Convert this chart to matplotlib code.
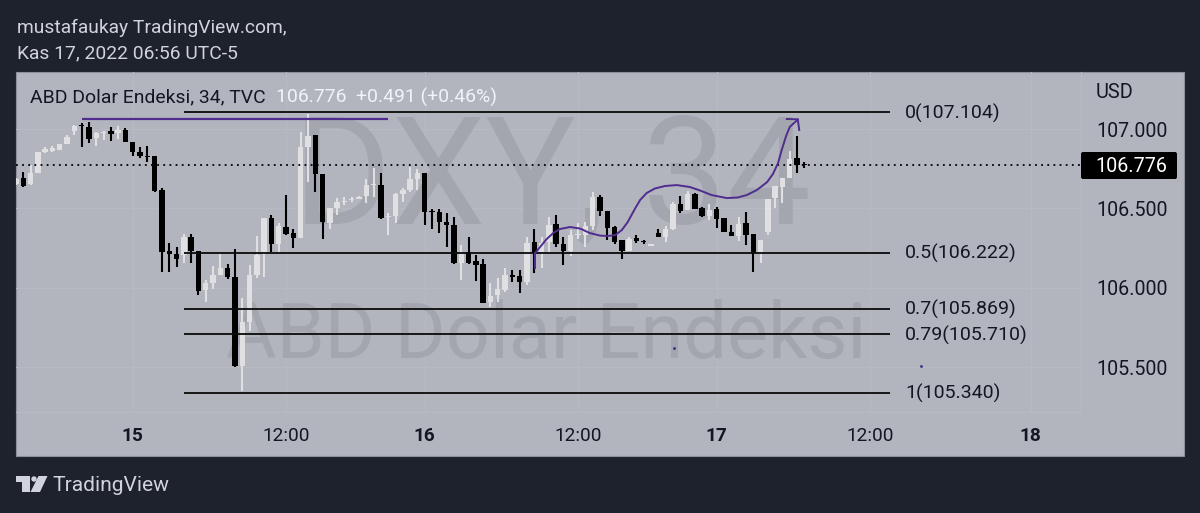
import matplotlib
matplotlib.use('Agg')
from matplotlib import pyplot as plt
from matplotlib.patches import FancyBboxPatch, Polygon, Circle, Rectangle

W, H = 1200, 513
BG = '#1e222d'
PANEL = '#b2b5be'
GRID = '#b7bac2'
UP = '#e0e0e3'
DOWN = '#000000'
WATER = '#a3a6af'
PURPLE = '#4f2c8d'

opens = [106.653, 106.691, 106.653, 106.722, 106.854, 106.861, 106.867, 106.905, 106.987, 107.028,
         107.012, 106.943, 106.977, 106.987, 106.974, 106.993, 106.917, 106.854, 106.829, 106.829,
         106.615, 106.231, 106.212, 106.206, 106.319, 106.231, 105.985, 106.029, 106.080, 106.124,
         106.067, 105.506, 105.783, 106.080, 106.224, 106.439, 106.275, 106.382, 106.344, 106.313,
         106.886, 106.962, 106.716, 106.407, 106.502, 106.539, 106.552, 106.558, 106.577, 106.646,
         106.646, 106.445, 106.451, 106.590, 106.615, 106.684, 106.722, 106.483, 106.476, 106.413,
         106.394, 106.155, 106.224, 106.168, 106.149, 105.909, 105.954, 105.985, 106.080, 106.073,
         106.035, 106.287, 106.224, 106.287, 106.401, 106.275, 106.231, 106.332, 106.332, 106.388,
         106.571, 106.483, 106.382, 106.300, 106.231, 106.313, 106.294, 106.262, 106.344, 106.319,
         106.369, 106.527, 106.489, 106.590, 106.502, 106.451, 106.495, 106.439, 106.350, 106.325,
         106.407, 106.338, 106.218, 106.350, 106.565, 106.634, 106.691, 106.817, 106.782]
highs = [106.690, 106.728, 106.772, 106.854, 106.886, 106.892, 106.905, 106.962, 107.025, 107.037,
         107.043, 106.980, 106.987, 107.012, 107.018, 107.006, 106.917, 106.886, 106.892, 106.829,
         106.628, 106.281, 106.256, 106.338, 106.338, 106.231, 106.048, 106.136, 106.212, 106.149,
         106.243, 105.935, 106.142, 106.325, 106.439, 106.458, 106.407, 106.584, 106.369, 106.980,
         107.094, 106.962, 106.716, 106.502, 106.565, 106.571, 106.571, 106.577, 106.684, 106.754,
         106.722, 106.470, 106.596, 106.628, 106.760, 106.747, 106.722, 106.495, 106.495, 106.470,
         106.445, 106.268, 106.319, 106.206, 106.180, 106.029, 106.061, 106.124, 106.111, 106.111,
         106.319, 106.369, 106.319, 106.445, 106.458, 106.319, 106.363, 106.407, 106.413, 106.602,
         106.584, 106.483, 106.388, 106.300, 106.319, 106.332, 106.300, 106.275, 106.369, 106.388,
         106.539, 106.577, 106.609, 106.596, 106.508, 106.527, 106.508, 106.439, 106.394, 106.445,
         106.476, 106.338, 106.300, 106.558, 106.640, 106.691, 106.861, 106.955, 106.791]
lows = [106.650, 106.634, 106.646, 106.722, 106.848, 106.854, 106.867, 106.905, 106.962, 106.886,
        106.911, 106.892, 106.930, 106.924, 106.936, 106.917, 106.829, 106.817, 106.791, 106.602,
        106.098, 106.098, 106.130, 106.155, 106.155, 105.954, 105.909, 105.991, 106.080, 106.054,
        105.500, 105.349, 105.727, 106.061, 106.067, 106.224, 106.218, 106.332, 106.250, 106.313,
        106.665, 106.602, 106.306, 106.369, 106.457, 106.520, 106.539, 106.558, 106.533, 106.571,
        106.432, 106.332, 106.407, 106.539, 106.602, 106.615, 106.394, 106.369, 106.344, 106.256,
        106.149, 106.048, 106.149, 106.042, 105.903, 105.878, 105.909, 105.972, 106.035, 105.966,
        106.016, 106.092, 106.124, 106.224, 106.256, 106.142, 106.199, 106.306, 106.256, 106.363,
        106.451, 106.300, 106.275, 106.180, 106.231, 106.281, 106.275, 106.262, 106.319, 106.287,
        106.363, 106.470, 106.489, 106.495, 106.445, 106.426, 106.376, 106.350, 106.325, 106.294,
        106.268, 106.098, 106.155, 106.332, 106.502, 106.533, 106.691, 106.722, 106.754]
closes = [106.684, 106.640, 106.722, 106.854, 106.873, 106.880, 106.905, 106.949, 107.018, 107.021,
          106.936, 106.974, 106.984, 106.968, 106.993, 106.917, 106.854, 106.829, 106.823, 106.609,
          106.224, 106.212, 106.180, 106.319, 106.231, 105.979, 106.029, 106.080, 106.124, 106.067,
          105.506, 105.783, 106.080, 106.206, 106.439, 106.275, 106.388, 106.338, 106.313, 106.886,
          106.955, 106.716, 106.413, 106.502, 106.539, 106.546, 106.558, 106.571, 106.646, 106.653,
          106.439, 106.451, 106.590, 106.615, 106.684, 106.722, 106.476, 106.476, 106.413, 106.394,
          106.155, 106.212, 106.155, 106.142, 105.903, 105.947, 105.991, 106.080, 106.067, 106.035,
          106.281, 106.218, 106.281, 106.394, 106.275, 106.231, 106.332, 106.338, 106.388, 106.571,
          106.483, 106.376, 106.287, 106.231, 106.306, 106.294, 106.287, 106.275, 106.319, 106.369,
          106.527, 106.483, 106.590, 106.495, 106.451, 106.489, 106.432, 106.350, 106.325, 106.401,
          106.332, 106.218, 106.300, 106.558, 106.640, 106.691, 106.810, 106.772, 106.776]

fib_ratios = ['0', '0.5', '0.7', '0.79', '1']
fib_prices = [107.104, 106.222, 105.869, 105.710, 105.340]
last_price = 106.776

# hand drawn purple path, bar index / price
top_line_x = [9, 51]
top_line_y = [107.06, 107.06]
curve_x = [71.1, 71.1, 71.8, 72.7, 73.6, 74.5, 75.9, 77.3, 78.6, 80.0, 81.0, 82.1, 83.0, 83.8, 84.7, 85.5, 86.4,
           87.5, 88.9, 90.5, 92.3, 93.7, 95.3, 97.4, 98.9, 100.1, 101.5, 102.9, 103.7, 104.4, 104.9, 105.5, 106.0, 107.1]
curve_y = [106.125, 106.219, 106.257, 106.307, 106.345, 106.370, 106.383, 106.373, 106.345, 106.329, 106.326,
           106.332, 106.364, 106.414, 106.490, 106.553, 106.597, 106.625, 106.641, 106.647, 106.635, 106.613,
           106.584, 106.565, 106.569, 106.584, 106.616, 106.666, 106.717, 106.786, 106.868, 106.956, 107.013, 107.060]
arrow_x = [105.6, 107.1, 107.3]
arrow_y = [107.063, 107.061, 106.994]

stray_x = [90.1, 124.0]
stray_y = [105.621, 105.508]

y_ticks = [107.0, 106.5, 106.0, 105.5]
y_labels = ['107.000', '106.500', '106.000', '105.500']
x_ticks = [16, 37, 56, 77, 96, 117, 139]
x_labels = ['15', '12:00', '16', '12:00', '17', '12:00', '18']
x_bold = ['15', '16', '17', '18']


def px(size):
    return size * 0.72


def fx(x):
    return x / W


def fy(y):
    return 1 - y / H


plt.rcParams['font.family'] = ['Roboto', 'DejaVu Sans']

fig = plt.figure(figsize=(12, 5.13), dpi=100, facecolor=BG)
fig.add_artist(Rectangle((fx(16), fy(456)), fx(1184 - 16), (456 - 72) / H, transform=fig.transFigure,
                         fc=PANEL, ec='#8d909a', lw=0.8, zorder=-1))

ax = fig.add_axes([fx(16), fy(412), fx(1081 - 16), (412 - 72) / H])
ax.patch.set_alpha(0)
for spine in ax.spines.values():
    spine.set_visible(False)
ax.spines['bottom'].set_visible(True)
ax.spines['right'].set_visible(True)
ax.spines['bottom'].set_color(GRID)
ax.spines['right'].set_color(GRID)
ax.set_xlim(0, 145.9)
ax.set_ylim(105.218, 107.359)
ax.grid(True, color=GRID, lw=0.8, zorder=0)
ax.set_axisbelow(True)

ax.yaxis.tick_right()
ax.set_yticks(y_ticks)
ax.set_yticklabels(y_labels)
ax.tick_params(axis='y', length=0, pad=11, labelsize=px(19.6), labelcolor='#131722')
ax.set_xticks(x_ticks)
ax.set_xticklabels(x_labels)
ax.tick_params(axis='x', length=0, pad=11, labelsize=px(19), labelcolor='#131722')
for label in ax.get_xticklabels():
    if label.get_text() in x_bold:
        label.set_fontweight('bold')

# watermarks sit behind the bars
ax.text(0.503, 0.675, 'DXY, 34', transform=ax.transAxes, fontsize=px(150), color=WATER,
        ha='center', va='center', zorder=1)
ax.text(0.498, 0.222, 'ABD Dolar Endeksi', transform=ax.transAxes, fontsize=px(77.5), color=WATER,
        ha='center', va='center', zorder=1)

idx = list(range(len(opens)))
for i, o, h, l, c in zip(idx, opens, highs, lows, closes):
    color = UP if c >= o else DOWN
    z = 3 if c >= o else 4
    ax.vlines(i, l, h, color=color, lw=1.5, zorder=z)
    ax.bar(i, max(abs(c - o), 0.006), bottom=min(o, c), width=0.74, color=color, lw=0, zorder=z)

ax.axhline(last_price, color='#000000', lw=1.3, ls=(0, (1, 2.4)), zorder=5)

for ratio, price in zip(fib_ratios, fib_prices):
    ax.hlines(price, 23.0, 119.7, color='#0a0a0a', lw=1.3, zorder=6)
    ax.text(121.8, price - 0.007, f'{ratio}({price:.3f})', fontsize=px(19.5), color='#131722', va='center', zorder=6)

ax.plot(top_line_x, top_line_y, color=PURPLE, lw=1.6, zorder=7, solid_capstyle='butt')
ax.plot(curve_x, curve_y, color=PURPLE, lw=1.4, zorder=7)
ax.plot(arrow_x, arrow_y, color=PURPLE, lw=1.4, zorder=7)
ax.plot(stray_x, stray_y, ls='none', marker='s', ms=0.9, color='#30308a', zorder=7)

# last price tag on the axis
fig.add_artist(FancyBboxPatch((1081, H - 179), 96, 27, boxstyle='round,pad=0,rounding_size=2',
                              transform=None, fc='#000000', ec='none'))
fig.text(fx(1131.5), fy(166), f'{last_price:.3f}', color='#ffffff', fontsize=px(19.8), ha='center', va='center')
fig.text(fx(1096), fy(93), 'USD', color='#131722', fontsize=px(20), va='center')

fig.text(fx(17), fy(27.5), 'mustafaukay TradingView.com,', color='#d1d4dc', fontsize=px(19.3), va='center')
fig.text(fx(17), fy(53.5), 'Kas 17, 2022 06:56 UTC-5', color='#d1d4dc', fontsize=px(19.3), va='center')
fig.text(fx(30), fy(97), 'ABD Dolar Endeksi, 34, TVC', color='#131722', fontsize=px(19.4), va='center')
fig.text(fx(275.5), fy(97), '106.776  +0.491 (+0.46%)', color='#f0f3fa', fontsize=px(19.35), va='center')

# TradingView logo, pixel coordinates
logo_t = [(16, 476), (30, 476), (30, 492), (22, 492), (22, 481.5), (16, 481.5)]
logo_slash = [(38.5, 476), (47.5, 476), (40, 492), (30.5, 492)]
for shape in (logo_t, logo_slash):
    fig.add_artist(Polygon([(x, H - y) for x, y in shape], transform=None, fc='#d1d4dc', ec='none'))
fig.add_artist(Circle((34, H - 479), 2.7, transform=None, fc='#d1d4dc', ec='none'))
fig.text(fx(52.5), fy(485.5), 'TradingView', color='#d1d4dc', fontsize=px(21), va='center')

fig.savefig('out.png', dpi=100, facecolor=BG)
